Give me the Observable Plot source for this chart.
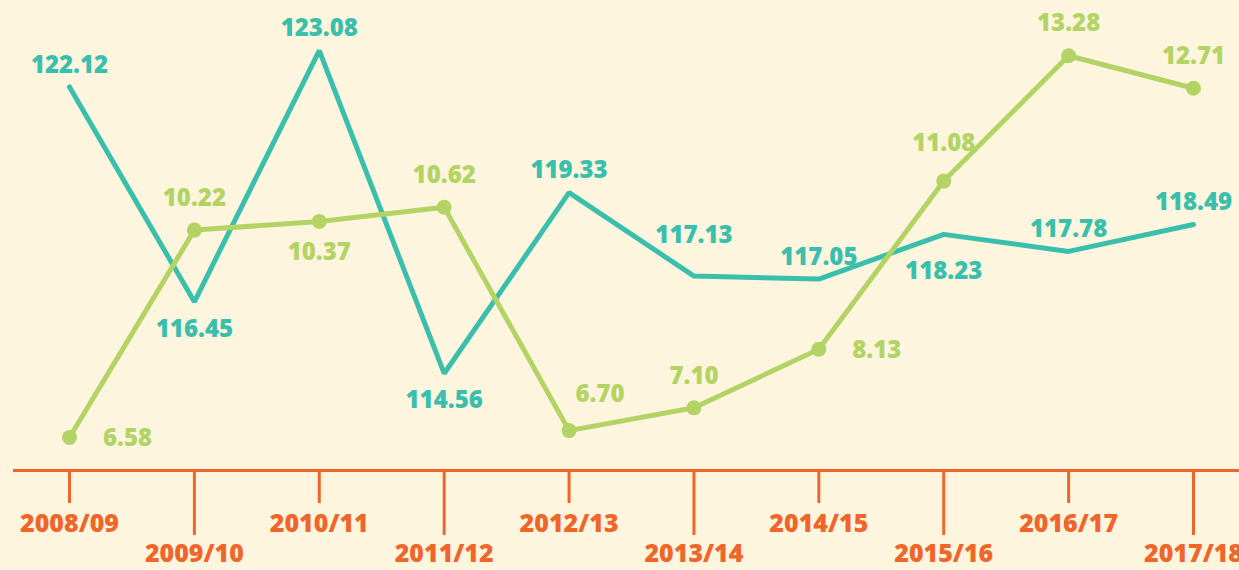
<!DOCTYPE html>
<html><head><meta charset="utf-8">
<script src="https://cdn.jsdelivr.net/npm/d3@7"></script>
<script src="https://cdn.jsdelivr.net/npm/@observablehq/plot@0.6"></script>
<style>
html,body{margin:0;padding:0;background:#FDF5DE;}
#wrap{position:relative;width:1239px;height:570px;overflow:hidden;}
#wrap svg{position:absolute;left:0;top:0;background:transparent;font-family:"Open Sans",sans-serif;}
</style></head>
<body><div id="wrap"></div>
<script>
const years = ["2008/09","2009/10","2010/11","2011/12","2012/13","2013/14","2014/15","2015/16","2016/17","2017/18"];
const tealValues = [122.12,116.45,123.08,114.56,119.33,117.13,117.05,118.23,117.78,118.49];
const greenValues = [6.58,10.22,10.37,10.62,6.70,7.10,8.13,11.08,13.28,12.71];
const tealLabelPos = ["above","below","above","below","above","above2","above","below2","above","above"];
const greenLabelPos = ["right","above","below","above","aboveright","above","right","above2","above","above"];

const W = 1239, H = 570;
const TEAL = "#3BBFAD", GREEN = "#B3D465", ORANGE = "#F0652A";
const FONT = '"Open Sans", sans-serif';

const teal = years.map((y,i)=>({year:y, v:tealValues[i], pos:tealLabelPos[i]}));
const green = years.map((y,i)=>({year:y, v:greenValues[i], pos:greenLabelPos[i]}));

const tealOffsets = {above:[0,-22], above2:[0,-41], below:[0,27], below2:[0,37]};
const greenOffsets = {above:[0,-32], above2:[0,-38], below:[0,31], right:[58,1], aboveright:[31,-36]};
const xScale = {type:"point", domain: years, range:[69,1193], padding:0, round:false, axis:null};
const common = {width:W, height:H, marginTop:0, marginBottom:100, marginLeft:13, marginRight:0,
  style:{background:"transparent", fontFamily:FONT}};

function labels(data, color, offsets){
  return Object.entries(offsets).map(([k,[dx,dy]]) =>
    Plot.text(data.filter(d=>d.pos===k), {x:"year", y:"v", text:d=>d.v.toFixed(2), dx, dy,
      fill:color, fontSize:24, fontWeight:800, textAnchor:"middle", lineAnchor:"middle"}));
}

const evenYears = years.filter((_,i)=>i%2===0);
const oddYears = years.filter((_,i)=>i%2===1);

const p1 = Plot.plot({...common, x: xScale, y:{domain:[112.0,124.4], axis:null},
  marks:[
    Plot.ruleY([112.0], {stroke:ORANGE, strokeWidth:3}),
    Plot.axisX(evenYears, {tickSize:33, tickPadding:11, stroke:ORANGE, strokeWidth:3, fill:ORANGE, fontSize:25, fontWeight:800, label:null}),
    Plot.axisX(oddYears, {tickSize:65, tickPadding:9, stroke:ORANGE, strokeWidth:3, fill:ORANGE, fontSize:25, fontWeight:800, label:null}),
    Plot.line(teal, {x:"year", y:"v", stroke:TEAL, strokeWidth:5, strokeLinejoin:"miter"}),
    ...labels(teal, TEAL, tealOffsets)
  ]});

const p2 = Plot.plot({...common, x: xScale, y:{domain:[6.0,14.25], axis:null},
  marks:[
    Plot.line(green, {x:"year", y:"v", stroke:GREEN, strokeWidth:5}),
    Plot.dot(green, {x:"year", y:"v", fill:GREEN, r:7.5}),
    ...labels(green, GREEN, greenOffsets)
  ]});

document.getElementById("wrap").append(p1, p2);
</script></body></html>
